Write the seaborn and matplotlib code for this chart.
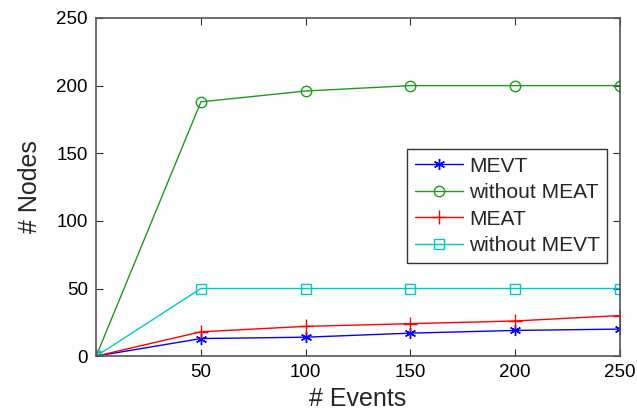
import matplotlib
matplotlib.use("Agg")
import matplotlib.pyplot as plt
import seaborn as sns
import pandas as pd

events = [0, 50, 100, 150, 200, 250]
mevt = [0, 13, 14, 17, 19, 20]
without_meat = [0, 188, 196, 200, 200, 200]
meat = [0, 18, 22, 24, 26, 30]
without_mevt = [0, 50, 50, 50, 50, 50]
series_names = ["MEVT", "without MEAT", "MEAT", "without MEVT"]
xticks = [50, 100, 150, 200, 250]
yticks = [0, 50, 100, 150, 200, 250]

sns.set_theme(style="white")
plt.rcParams['font.family'] = ['Liberation Sans', 'DejaVu Sans']

df = pd.DataFrame({
    "events": events * 4,
    "nodes": mevt + without_meat + meat + without_mevt,
    "series": sum([[n] * len(events) for n in series_names], []),
})

colors = {"MEVT": "#0000ff", "without MEAT": "#1f9a1f", "MEAT": "#ff0000", "without MEVT": "#00c8c8"}
markers = {"MEVT": (6, 2, 0), "without MEAT": "o", "MEAT": "+", "without MEVT": "s"}
msizes = {"MEVT": 8, "without MEAT": 7.5, "MEAT": 10, "without MEVT": 7.5}

fig = plt.figure(figsize=(6.37, 4.18), dpi=100)
ax = fig.add_axes([0.151, 0.148, 0.822, 0.809])

for name in series_names:
    sub = df[df["series"] == name]
    sns.lineplot(data=sub, x="events", y="nodes", ax=ax, color=colors[name],
                 marker=markers[name], markersize=msizes[name],
                 markerfacecolor="none" if name in ("without MEAT", "without MEVT") else colors[name],
                 markeredgecolor=colors[name], markeredgewidth=1.0,
                 linewidth=1.0, label=name)

ax.set_xlim(0, 250)
ax.set_ylim(0, 250)
ax.set_xticks(xticks)
ax.set_yticks(yticks)
ax.tick_params(direction="in", length=5, width=0.8, colors="#333333",
               labelsize=13.5, labelcolor="black", top=True, right=True,
               bottom=True, left=True, pad=6)
for s in ax.spines.values():
    s.set_color("#555555")
    s.set_linewidth(1.2)
    s.set_visible(True)

ax.set_xlabel("# Events", fontsize=18, labelpad=4)
ax.set_ylabel("# Nodes", fontsize=18, labelpad=10)

leg = ax.legend(loc="upper left", bbox_to_anchor=(0.594, 0.612), fontsize=15.1,
                frameon=True, fancybox=False, edgecolor="black",
                handlelength=2.3, handletextpad=0.3, borderpad=0.35,
                labelspacing=0.36, borderaxespad=0)
leg.get_frame().set_linewidth(1.0)

fig.savefig("out.png", dpi=100)
